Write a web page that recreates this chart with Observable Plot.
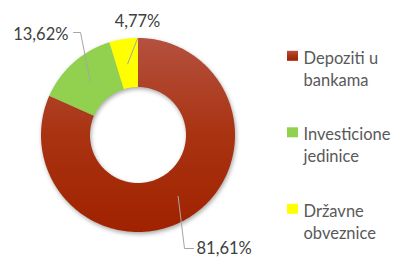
<!DOCTYPE html>
<html>
<head>
<meta charset="utf-8">
<script src="https://cdn.jsdelivr.net/npm/d3@7"></script>
<script src="https://cdn.jsdelivr.net/npm/@observablehq/plot@0.6"></script>
<style>
  html, body { margin: 0; padding: 0; background: #fff; }
  #chart { width: 395px; height: 257px; }
</style>
</head>
<body>
<div id="chart"></div>
<script>
// ---- data ----
const categories = ["Depoziti u bankama", "Investicione jedinice", "Državne obveznice"];
const legendText = ["Depoziti u\nbankama", "Investicione\njedinice", "Državne\nobveznice"];
const values = [81.61, 13.62, 4.77];
const valueLabels = ["81,61%", "13,62%", "4,77%"];
const colors = ["url(#redGrad)", "#92d050", "#ffff00"];

// ---- layout (pixels) ----
const W = 395, H = 257;
const CX = 138, CY = 135, R_OUT = 97, R_IN = 48, R_LEADER = 72.5;
const FS = 16.5;
const MID = 0.32 * FS; // baseline offset for middle-anchored text
// label placement: text baseline point + leader bend points
const labelLayout = [
  {tx: 196, base: 253.8, anchor: "start", bends: [[184, 248], [193, 248]]},
  {tx: 68, base: 39.3, anchor: "end", bends: [[80, 32], [73, 32]]},
  {tx: 137, base: 26.7, anchor: "middle", bends: [[137, 38]]}
];
const legendLayout = {sx: 287, sw: 11, sh: 10, tx: 303, top: [50.8, 127.3, 203.8], lineGap: 21.6};

// ---- geometry via d3.pie ----
const arcs = d3.pie().sort(null).value(d => d)(values);
const polar = (r, a) => [CX + r * Math.sin(a), CY - r * Math.cos(a)];
const areaRows = [];
arcs.forEach((arc, i) => {
  const N = Math.max(8, Math.ceil((arc.endAngle - arc.startAngle) * 60));
  for (let k = 0; k <= N; k++) {
    const a = arc.startAngle + (arc.endAngle - arc.startAngle) * k / N;
    const [x1, y1] = polar(R_OUT, a);
    const [x2, y2] = polar(R_IN, a);
    areaRows.push({cat: categories[i], x1, y1, x2, y2});
  }
});

const leaderRows = [];
const labelRows = [];
arcs.forEach((arc, i) => {
  const mid = (arc.startAngle + arc.endAngle) / 2;
  const [sx, sy] = polar(R_LEADER, mid);
  leaderRows.push({id: i, x: sx, y: sy});
  labelLayout[i].bends.forEach(([x, y]) => leaderRows.push({id: i, x, y}));
  labelRows.push({text: valueLabels[i], x: labelLayout[i].tx, y: labelLayout[i].base - MID, anchor: labelLayout[i].anchor});
});

const legendRows = categories.map((c, i) => ({
  cat: c,
  text: legendText[i],
  x1: legendLayout.sx, x2: legendLayout.sx + legendLayout.sw,
  y1: legendLayout.top[i], y2: legendLayout.top[i] + legendLayout.sh,
  tx: legendLayout.tx,
  ty: legendLayout.top[i] + legendLayout.sh + 1 + legendLayout.lineGap / 2 - MID
}));

const FONT = "Lato, 'Open Sans', sans-serif";
const plot = Plot.plot({
  width: W, height: H,
  margin: 0,
  x: {domain: [0, W], range: [0, W], axis: null},
  y: {domain: [0, H], range: [0, H], axis: null},
  color: {domain: categories, range: colors},
  style: {fontFamily: FONT, fontSize: FS + "px", background: "#fff"},
  marks: [
    Plot.area(areaRows, {x1: "x1", y1: "y1", x2: "x2", y2: "y2", z: "cat", fill: "cat", curve: "linear"}),
    Plot.line(leaderRows, {x: "x", y: "y", z: "id", stroke: "#a6a6a6", strokeWidth: 1}),
    Plot.text(labelRows.filter(d => d.anchor === "start"), {x: "x", y: "y", text: "text", textAnchor: "start", fill: "#404040", fontSize: FS}),
    Plot.text(labelRows.filter(d => d.anchor === "end"), {x: "x", y: "y", text: "text", textAnchor: "end", fill: "#404040", fontSize: FS}),
    Plot.text(labelRows.filter(d => d.anchor === "middle"), {x: "x", y: "y", text: "text", textAnchor: "middle", fill: "#404040", fontSize: FS}),
    Plot.rect(legendRows, {x1: "x1", x2: "x2", y1: "y1", y2: "y2", fill: "cat"}),
    Plot.text(legendRows, {x: "tx", y: "ty", text: "text", textAnchor: "start", lineHeight: legendLayout.lineGap / FS, fill: "#595959", fontSize: FS})
  ]
});

// gradient + shadow definitions
const ns = "http://www.w3.org/2000/svg";
const defs = document.createElementNS(ns, "defs");
defs.innerHTML = `
  <linearGradient id="redGrad" x1="0" y1="0" x2="0" y2="1">
    <stop offset="0" stop-color="#b4513f"/>
    <stop offset="0.5" stop-color="#a93311"/>
    <stop offset="1" stop-color="#a02200"/>
  </linearGradient>`;
plot.insertBefore(defs, plot.firstChild);
const areaG = plot.querySelector('g[aria-label="area"]');
if (areaG) areaG.style.filter = "drop-shadow(1px 2px 2px rgba(0,0,0,0.35))";

document.getElementById("chart").appendChild(plot);
</script>
</body>
</html>
